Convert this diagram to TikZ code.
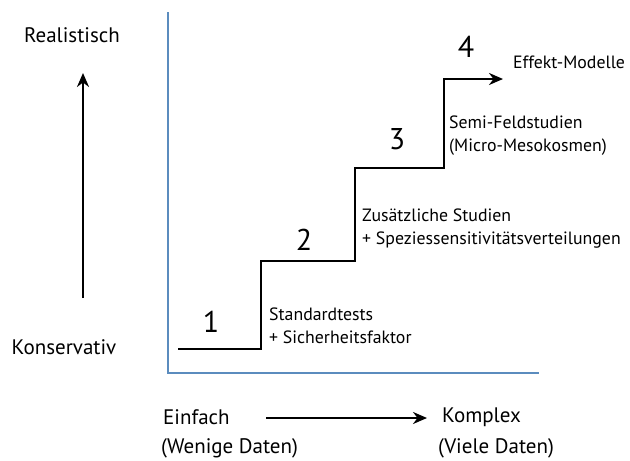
\documentclass[tikz,border=0pt]{standalone}
\usepackage{fontspec}
\setmainfont{PT Sans}
\usetikzlibrary{arrows.meta}
\definecolor{axisblue}{HTML}{5B8CBE}
\begin{document}
\begin{tikzpicture}[x=1pt,y=-1pt,
  big/.style={font=\fontsize{21}{24}\selectfont, inner sep=0pt},
  num/.style={font=\fontsize{30}{32}\selectfont, inner sep=0pt},
  small/.style={font=\fontsize{17.8}{20}\selectfont, inner sep=0pt, anchor=west, align=left},
  stair/.style={line width=2.3pt, -{Stealth[length=14pt,width=12pt]}},
  axis/.style={axisblue, line width=1.3pt},
  arr/.style={line width=2.3pt, -{Stealth[length=14pt,width=12pt]}}]
\useasboundingbox (0,0) rectangle (630,461);
% axes
\coordinate (atop) at (168,12);
\coordinate (aorig) at (168,373);
\coordinate (aright) at (539,373);
\draw[axis] (atop) -- (aorig) -- (aright);
% staircase
\coordinate (s0) at (178,349);
\coordinate (s1) at (261,349);
\coordinate (s2) at (261,261);
\coordinate (s3) at (355,261);
\coordinate (s4) at (355,168);
\coordinate (s5) at (444,168);
\coordinate (s6) at (444,79);
\coordinate (s7) at (503,79);
\draw[stair, line join=miter] (s0) -- (s1) -- (s2) -- (s3) -- (s4) -- (s5) -- (s6) -- (s7);
% numbers
\node[num] (n1) at (211,322) {1};
\node[num] (n2) at (304,240) {2};
\node[num] (n3) at (397,139) {3};
\node[num] (n4) at (466,47) {4};
% step labels
\node[small] (l1) at (269,326) {Standardtests\\[3pt]+ Sicherheitsfaktor};
\node[small] (l2) at (362,229) {Zusätzliche Studien\\[3pt]+ Speziessensitivitätsverteilungen};
\node[small] (l3) at (449,136) {Semi-Feldstudien\\[3pt](Micro-Mesokosmen)};
\node[small] (l4) at (513,62) {Effekt-Modelle};
% left axis labels
\node[big] (real) at (72,35) {Realistisch};
\node[big] (kons) at (64,347) {Konservativ};
\coordinate (ua0) at (83,298);
\coordinate (ua1) at (83,73);
\draw[arr] (ua0) -- (ua1);
% bottom labels
\node[big, anchor=west] (einf) at (163,417) {Einfach};
\node[big, anchor=west] (komp) at (442,417) {Komplex};
\node[big, anchor=west] (wen) at (161,448) {(Wenige Daten)};
\node[big, anchor=west] (viel) at (438,448) {(Viele Daten)};
\coordinate (ha0) at (266,418);
\coordinate (ha1) at (427,418);
\draw[arr] (ha0) -- (ha1);
\end{tikzpicture}
\end{document}
